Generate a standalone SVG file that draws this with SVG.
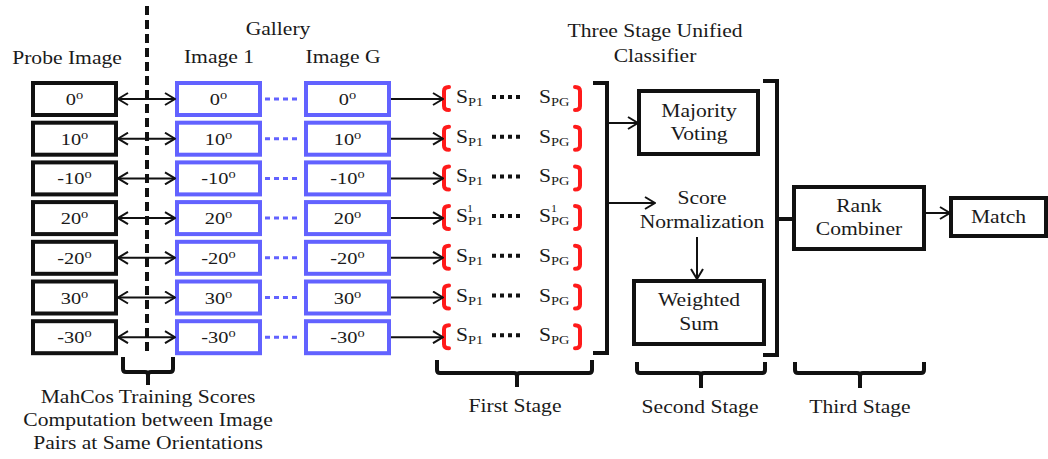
<svg xmlns="http://www.w3.org/2000/svg" width="1048" height="459" viewBox="0 0 1048 459">
  <style>
    .t { font-family: "Liberation Serif", "Times New Roman", serif; font-size: 18px; fill: #1a1a1a; text-anchor: middle; }
    .d { font-family: "Liberation Serif", "Times New Roman", serif; font-size: 17px; fill: #1a1a1a; text-anchor: middle; }
    .s { font-family: "Liberation Serif", "Times New Roman", serif; font-size: 18px; fill: #1a1a1a; }
    .sub { font-size: 12px; }
    .deg { font-size: 12px; }
    .sup { font-family: "Liberation Serif", "Times New Roman", serif; font-size: 10px; fill: #1a1a1a; }
    .probe { fill: #fff; stroke: #111; stroke-width: 4; }
    .gal { fill: #fff; stroke: #6262ff; stroke-width: 4; }
    .box { fill: #fff; stroke: #111; stroke-width: 4; }
    .ln { fill: none; stroke: #111; stroke-width: 2; }
    .br { fill: none; stroke: #111; stroke-width: 4; }
    .red { fill: none; stroke: #ff1a1a; stroke-width: 4; stroke-linecap: round; }
    .bdots { stroke: #6262ff; stroke-width: 3; stroke-dasharray: 5 4; }
    .kdots { stroke: #111; stroke-width: 4; stroke-dasharray: 4 4; }
  </style>
  <defs>
    <marker id="arr" viewBox="0 0 12 14" refX="11" refY="7" markerWidth="12" markerHeight="14" markerUnits="userSpaceOnUse" orient="auto-start-reverse">
      <path d="M1,1 L11,7 L1,13" fill="none" stroke="#111" stroke-width="2"/>
    </marker>
  </defs>
  <rect width="1048" height="459" fill="#fff"/>

  <!-- column headings -->
  <g id="headings">
    <text class="t" transform="translate(67 64) scale(1.2 1)">Probe Image</text>
    <text class="t" transform="translate(278 35) scale(1.2 1)">Gallery</text>
    <text class="t" transform="translate(219 63) scale(1.2 1)">Image 1</text>
    <text class="t" transform="translate(343 63) scale(1.2 1)">Image G</text>
    <text class="t" transform="translate(655 37) scale(1.2 1)">Three Stage Unified</text>
    <text class="t" transform="translate(655 62) scale(1.2 1)">Classifier</text>
  </g>

  <!-- dashed separator between probe and gallery -->
  <line id="separator" x1="147" y1="6" x2="147" y2="355" stroke="#111" stroke-width="4" stroke-dasharray="9 5"/>

  <!-- probe images -->
  <g id="probe">
    <g id="probe-0"><rect class="probe" x="33" y="83" width="83" height="32"/><text class="d" transform="translate(74.5 105) scale(1.2 1)">0<tspan class="deg" dy="-6">o</tspan></text></g>
    <g id="probe-10"><rect class="probe" x="33" y="122.7" width="83" height="32"/><text class="d" transform="translate(74.5 144.7) scale(1.2 1)">10<tspan class="deg" dy="-6">o</tspan></text></g>
    <g id="probe-m10"><rect class="probe" x="33" y="162.4" width="83" height="32"/><text class="d" transform="translate(74.5 184.4) scale(1.2 1)">-10<tspan class="deg" dy="-6">o</tspan></text></g>
    <g id="probe-20"><rect class="probe" x="33" y="202.1" width="83" height="32"/><text class="d" transform="translate(74.5 224.1) scale(1.2 1)">20<tspan class="deg" dy="-6">o</tspan></text></g>
    <g id="probe-m20"><rect class="probe" x="33" y="241.8" width="83" height="32"/><text class="d" transform="translate(74.5 263.8) scale(1.2 1)">-20<tspan class="deg" dy="-6">o</tspan></text></g>
    <g id="probe-30"><rect class="probe" x="33" y="281.5" width="83" height="32"/><text class="d" transform="translate(74.5 303.5) scale(1.2 1)">30<tspan class="deg" dy="-6">o</tspan></text></g>
    <g id="probe-m30"><rect class="probe" x="33" y="321.2" width="83" height="32"/><text class="d" transform="translate(74.5 343.2) scale(1.2 1)">-30<tspan class="deg" dy="-6">o</tspan></text></g>
  </g>

  <!-- gallery image 1 -->
  <g id="gallery-1">
    <g id="g1-0"><rect class="gal" x="177" y="83" width="83" height="32"/><text class="d" transform="translate(218.5 105) scale(1.2 1)">0<tspan class="deg" dy="-6">o</tspan></text></g>
    <g id="g1-10"><rect class="gal" x="177" y="122.7" width="83" height="32"/><text class="d" transform="translate(218.5 144.7) scale(1.2 1)">10<tspan class="deg" dy="-6">o</tspan></text></g>
    <g id="g1-m10"><rect class="gal" x="177" y="162.4" width="83" height="32"/><text class="d" transform="translate(218.5 184.4) scale(1.2 1)">-10<tspan class="deg" dy="-6">o</tspan></text></g>
    <g id="g1-20"><rect class="gal" x="177" y="202.1" width="83" height="32"/><text class="d" transform="translate(218.5 224.1) scale(1.2 1)">20<tspan class="deg" dy="-6">o</tspan></text></g>
    <g id="g1-m20"><rect class="gal" x="177" y="241.8" width="83" height="32"/><text class="d" transform="translate(218.5 263.8) scale(1.2 1)">-20<tspan class="deg" dy="-6">o</tspan></text></g>
    <g id="g1-30"><rect class="gal" x="177" y="281.5" width="83" height="32"/><text class="d" transform="translate(218.5 303.5) scale(1.2 1)">30<tspan class="deg" dy="-6">o</tspan></text></g>
    <g id="g1-m30"><rect class="gal" x="177" y="321.2" width="83" height="32"/><text class="d" transform="translate(218.5 343.2) scale(1.2 1)">-30<tspan class="deg" dy="-6">o</tspan></text></g>
  </g>

  <!-- gallery image G -->
  <g id="gallery-G">
    <g id="gG-0"><rect class="gal" x="306" y="83" width="83" height="32"/><text class="d" transform="translate(347.5 105) scale(1.2 1)">0<tspan class="deg" dy="-6">o</tspan></text></g>
    <g id="gG-10"><rect class="gal" x="306" y="122.7" width="83" height="32"/><text class="d" transform="translate(347.5 144.7) scale(1.2 1)">10<tspan class="deg" dy="-6">o</tspan></text></g>
    <g id="gG-m10"><rect class="gal" x="306" y="162.4" width="83" height="32"/><text class="d" transform="translate(347.5 184.4) scale(1.2 1)">-10<tspan class="deg" dy="-6">o</tspan></text></g>
    <g id="gG-20"><rect class="gal" x="306" y="202.1" width="83" height="32"/><text class="d" transform="translate(347.5 224.1) scale(1.2 1)">20<tspan class="deg" dy="-6">o</tspan></text></g>
    <g id="gG-m20"><rect class="gal" x="306" y="241.8" width="83" height="32"/><text class="d" transform="translate(347.5 263.8) scale(1.2 1)">-20<tspan class="deg" dy="-6">o</tspan></text></g>
    <g id="gG-30"><rect class="gal" x="306" y="281.5" width="83" height="32"/><text class="d" transform="translate(347.5 303.5) scale(1.2 1)">30<tspan class="deg" dy="-6">o</tspan></text></g>
    <g id="gG-m30"><rect class="gal" x="306" y="321.2" width="83" height="32"/><text class="d" transform="translate(347.5 343.2) scale(1.2 1)">-30<tspan class="deg" dy="-6">o</tspan></text></g>
  </g>

  <!-- blue ellipsis between gallery columns -->
  <g id="gallery-ellipsis">
    <line class="bdots" x1="265" y1="99" x2="299" y2="99"/>
    <line class="bdots" x1="265" y1="138.7" x2="299" y2="138.7"/>
    <line class="bdots" x1="265" y1="178.4" x2="299" y2="178.4"/>
    <line class="bdots" x1="265" y1="218.1" x2="299" y2="218.1"/>
    <line class="bdots" x1="265" y1="257.8" x2="299" y2="257.8"/>
    <line class="bdots" x1="265" y1="297.5" x2="299" y2="297.5"/>
    <line class="bdots" x1="265" y1="337.2" x2="299" y2="337.2"/>
  </g>

  <!-- score vectors per orientation -->
  <g id="scores">
    <g id="score-0">
      <path class="red" d="M449,87 Q444,87 444,91 V106 Q444,110 449,110"/>
      <text class="s" transform="translate(456 103) scale(1.2 1)">S<tspan class="sub" dy="3">P1</tspan></text>
      <line class="kdots" x1="492" y1="97" x2="524" y2="97"/>
      <text class="s" transform="translate(539 103) scale(1.2 1)">S<tspan class="sub" dy="3">PG</tspan></text>
      <path class="red" d="M575,87 Q580,87 580,91 V106 Q580,110 575,110"/>
    </g>
    <g id="score-10">
      <path class="red" d="M449,126.7 Q444,126.7 444,130.7 V145.7 Q444,149.7 449,149.7"/>
      <text class="s" transform="translate(456 142.7) scale(1.2 1)">S<tspan class="sub" dy="3">P1</tspan></text>
      <line class="kdots" x1="492" y1="136.7" x2="524" y2="136.7"/>
      <text class="s" transform="translate(539 142.7) scale(1.2 1)">S<tspan class="sub" dy="3">PG</tspan></text>
      <path class="red" d="M575,126.7 Q580,126.7 580,130.7 V145.7 Q580,149.7 575,149.7"/>
    </g>
    <g id="score-m10">
      <path class="red" d="M449,166.4 Q444,166.4 444,170.4 V185.4 Q444,189.4 449,189.4"/>
      <text class="s" transform="translate(456 182.4) scale(1.2 1)">S<tspan class="sub" dy="3">P1</tspan></text>
      <line class="kdots" x1="492" y1="176.4" x2="524" y2="176.4"/>
      <text class="s" transform="translate(539 182.4) scale(1.2 1)">S<tspan class="sub" dy="3">PG</tspan></text>
      <path class="red" d="M575,166.4 Q580,166.4 580,170.4 V185.4 Q580,189.4 575,189.4"/>
    </g>
    <g id="score-20">
      <path class="red" d="M449,206.1 Q444,206.1 444,210.1 V225.1 Q444,229.1 449,229.1"/>
      <text class="s" transform="translate(456 222.1) scale(1.2 1)">S<tspan class="sub" dy="3">P1</tspan></text>
      <text class="sup" transform="translate(467 212) scale(1.2 1)">1</text>
      <line class="kdots" x1="492" y1="216.1" x2="524" y2="216.1"/>
      <text class="s" transform="translate(539 222.1) scale(1.2 1)">S<tspan class="sub" dy="3">PG</tspan></text>
      <text class="sup" transform="translate(551 212) scale(1.2 1)">1</text>
      <path class="red" d="M575,206.1 Q580,206.1 580,210.1 V225.1 Q580,229.1 575,229.1"/>
    </g>
    <g id="score-m20">
      <path class="red" d="M449,245.8 Q444,245.8 444,249.8 V264.8 Q444,268.8 449,268.8"/>
      <text class="s" transform="translate(456 261.8) scale(1.2 1)">S<tspan class="sub" dy="3">P1</tspan></text>
      <line class="kdots" x1="492" y1="255.8" x2="524" y2="255.8"/>
      <text class="s" transform="translate(539 261.8) scale(1.2 1)">S<tspan class="sub" dy="3">PG</tspan></text>
      <path class="red" d="M575,245.8 Q580,245.8 580,249.8 V264.8 Q580,268.8 575,268.8"/>
    </g>
    <g id="score-30">
      <path class="red" d="M449,285.5 Q444,285.5 444,289.5 V304.5 Q444,308.5 449,308.5"/>
      <text class="s" transform="translate(456 301.5) scale(1.2 1)">S<tspan class="sub" dy="3">P1</tspan></text>
      <line class="kdots" x1="492" y1="295.5" x2="524" y2="295.5"/>
      <text class="s" transform="translate(539 301.5) scale(1.2 1)">S<tspan class="sub" dy="3">PG</tspan></text>
      <path class="red" d="M575,285.5 Q580,285.5 580,289.5 V304.5 Q580,308.5 575,308.5"/>
    </g>
    <g id="score-m30">
      <path class="red" d="M449,325.2 Q444,325.2 444,329.2 V344.2 Q444,348.2 449,348.2"/>
      <text class="s" transform="translate(456 341.2) scale(1.2 1)">S<tspan class="sub" dy="3">P1</tspan></text>
      <line class="kdots" x1="492" y1="335.2" x2="524" y2="335.2"/>
      <text class="s" transform="translate(539 341.2) scale(1.2 1)">S<tspan class="sub" dy="3">PG</tspan></text>
      <path class="red" d="M575,325.2 Q580,325.2 580,329.2 V344.2 Q580,348.2 575,348.2"/>
    </g>
  </g>

  <!-- classifier stages -->
  <g id="majority-voting">
    <rect class="box" x="639" y="91" width="119" height="63"/>
    <text class="t" transform="translate(699 117) scale(1.2 1)">Majority</text>
    <text class="t" transform="translate(699 140) scale(1.2 1)">Voting</text>
  </g>
  <g id="score-normalization">
    <text class="t" transform="translate(702 204) scale(1.2 1)">Score</text>
    <text class="t" transform="translate(702 228) scale(1.2 1)">Normalization</text>
  </g>
  <g id="weighted-sum">
    <rect class="box" x="634" y="281" width="130" height="63"/>
    <text class="t" transform="translate(699 306) scale(1.2 1)">Weighted</text>
    <text class="t" transform="translate(699 330) scale(1.2 1)">Sum</text>
  </g>
  <g id="rank-combiner">
    <rect class="box" x="794" y="187" width="130" height="62"/>
    <text class="t" transform="translate(859 212) scale(1.2 1)">Rank</text>
    <text class="t" transform="translate(859 235) scale(1.2 1)">Combiner</text>
  </g>
  <g id="match">
    <rect class="box" x="951" y="198" width="95" height="38"/>
    <text class="t" transform="translate(998.5 223) scale(1.2 1)">Match</text>
  </g>

  <!-- connectors -->
  <g id="connectors">
    <!-- probe to gallery comparisons -->
    <line class="ln" x1="118" y1="99" x2="175" y2="99" marker-start="url(#arr)" marker-end="url(#arr)"/>
    <line class="ln" x1="118" y1="138.7" x2="175" y2="138.7" marker-start="url(#arr)" marker-end="url(#arr)"/>
    <line class="ln" x1="118" y1="178.4" x2="175" y2="178.4" marker-start="url(#arr)" marker-end="url(#arr)"/>
    <line class="ln" x1="118" y1="218.1" x2="175" y2="218.1" marker-start="url(#arr)" marker-end="url(#arr)"/>
    <line class="ln" x1="118" y1="257.8" x2="175" y2="257.8" marker-start="url(#arr)" marker-end="url(#arr)"/>
    <line class="ln" x1="118" y1="297.5" x2="175" y2="297.5" marker-start="url(#arr)" marker-end="url(#arr)"/>
    <line class="ln" x1="118" y1="337.2" x2="175" y2="337.2" marker-start="url(#arr)" marker-end="url(#arr)"/>
    <!-- gallery to score vectors -->
    <line class="ln" x1="391" y1="99" x2="443" y2="99" marker-end="url(#arr)"/>
    <line class="ln" x1="391" y1="138.7" x2="443" y2="138.7" marker-end="url(#arr)"/>
    <line class="ln" x1="391" y1="178.4" x2="443" y2="178.4" marker-end="url(#arr)"/>
    <line class="ln" x1="391" y1="218.1" x2="443" y2="218.1" marker-end="url(#arr)"/>
    <line class="ln" x1="391" y1="257.8" x2="443" y2="257.8" marker-end="url(#arr)"/>
    <line class="ln" x1="391" y1="297.5" x2="443" y2="297.5" marker-end="url(#arr)"/>
    <line class="ln" x1="391" y1="337.2" x2="443" y2="337.2" marker-end="url(#arr)"/>
    <!-- first stage collector -->
    <path class="br" d="M593,83 H607 V353 H593"/>
    <line class="ln" x1="607" y1="123" x2="638" y2="123" marker-end="url(#arr)"/>
    <line class="ln" x1="607" y1="203" x2="655" y2="203" marker-end="url(#arr)"/>
    <line class="ln" x1="697" y1="237" x2="697" y2="279" marker-end="url(#arr)"/>
    <!-- second stage collector -->
    <path class="br" d="M763,81 H777 V355 H763"/>
    <line class="br" x1="777" y1="219" x2="794" y2="219"/>
    <line class="ln" x1="926" y1="213" x2="950" y2="213" marker-end="url(#arr)"/>
  </g>

  <!-- stage braces and captions -->
  <g id="stage-training">
    <path class="br" d="M123,357 V369 Q123,372 126,372 H145 Q148,372 148,375 V385 M148,375 Q148,372 151,372 H170 Q173,372 173,369 V357"/>
    <text class="t" transform="translate(148 403) scale(1.2 1)">MahCos Training Scores</text>
    <text class="t" transform="translate(148 426) scale(1.2 1)">Computation between Image</text>
    <text class="t" transform="translate(148 449) scale(1.2 1)">Pairs at Same Orientations</text>
  </g>
  <g id="stage-first">
    <path class="br" d="M437,360 V370 Q437,373 440,373 H514 Q517,373 517,376 V387 M517,376 Q517,373 520,373 H589 Q592,373 592,370 V360"/>
    <text class="t" transform="translate(515 412) scale(1.2 1)">First Stage</text>
  </g>
  <g id="stage-second">
    <path class="br" d="M637,362 V370 Q637,373 640,373 H698 Q701,373 701,376 V388 M701,376 Q701,373 704,373 H762 Q765,373 765,370 V362"/>
    <text class="t" transform="translate(700 413) scale(1.2 1)">Second Stage</text>
  </g>
  <g id="stage-third">
    <path class="br" d="M795,362 V370 Q795,373 798,373 H857 Q860,373 860,376 V388 M860,376 Q860,373 863,373 H921 Q924,373 924,370 V362"/>
    <text class="t" transform="translate(860 413) scale(1.2 1)">Third Stage</text>
  </g>
</svg>
